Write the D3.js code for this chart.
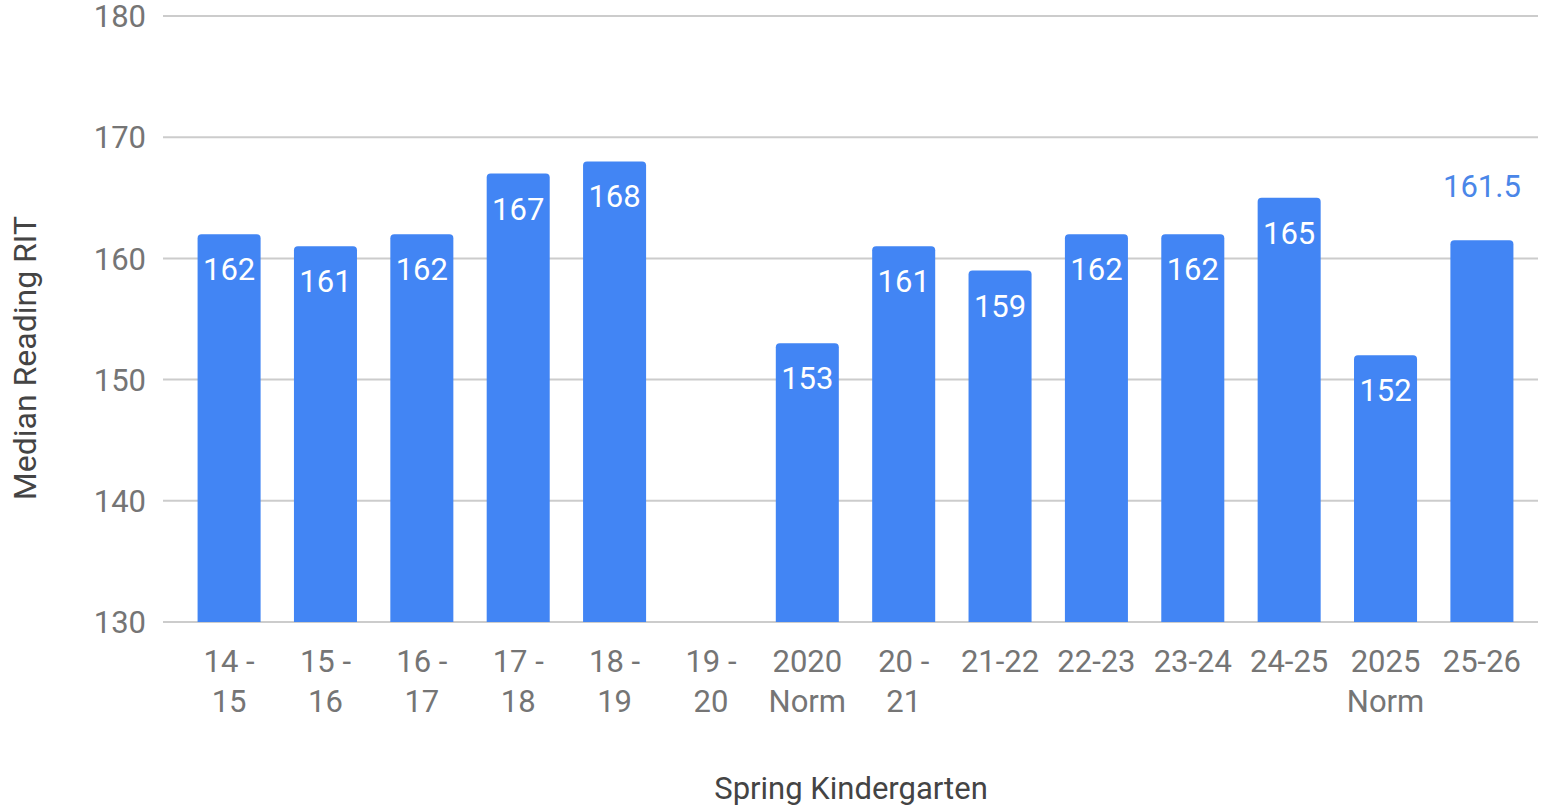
<!DOCTYPE html>
<html>
<head>
<meta charset="utf-8">
<script src="https://cdn.jsdelivr.net/npm/d3@7"></script>
<style>
  body { margin: 0; background: #fff; }
  svg { display: block; font-family: Roboto, 'Noto Sans', sans-serif; }
</style>
</head>
<body>
<div id="chart"></div>
<script>
// Chart data
const categories = ['14 - 15', '15 - 16', '16 - 17', '17 - 18', '18 - 19', '19 - 20', '2020 Norm',
  '20 - 21', '21-22', '22-23', '23-24', '24-25', '2025 Norm', '25-26']
const tickLines = [['14 -', '15'], ['15 -', '16'], ['16 -', '17'], ['17 -', '18'], ['18 -', '19'],
  ['19 -', '20'], ['2020', 'Norm'], ['20 -', '21'], ['21-22'], ['22-23'], ['23-24'], ['24-25'],
  ['2025', 'Norm'], ['25-26']]
const values = [162, 161, 162, 167, 168, null, 153, 161, 159, 162, 162, 165, 152, 161.5]
const yTicks = [130, 140, 150, 160, 170, 180]

const width = 1545
const height = 811
const barColor = '#4285f4'

const svg = d3.select('#chart').append('svg')
  .attr('width', width)
  .attr('height', height)

const x = d3.scaleBand()
  .domain(categories)
  .range([168, 1543])
  .paddingInner(0.346)
  .paddingOuter(0.307)

const y = d3.scaleLinear()
  .domain([130, 180])
  .range([622, 16])

// Gridlines
svg.append('g')
  .selectAll('line')
  .data(yTicks)
  .enter().append('line')
  .attr('x1', 163)
  .attr('x2', 1538)
  .attr('y1', d => y(d))
  .attr('y2', d => y(d))
  .attr('stroke', '#cccccc')
  .attr('stroke-width', 2)

// Y tick labels
svg.append('g')
  .selectAll('text')
  .data(yTicks)
  .enter().append('text')
  .attr('x', 146)
  .attr('y', d => y(d))
  .attr('dy', '0.36em')
  .attr('text-anchor', 'end')
  .attr('fill', '#757575')
  .style('font-size', '31px')
  .text(d => d)

// Bars with rounded tops
const r = 4
const bars = categories.map((c, i) => ({ cat: c, v: values[i] })).filter(d => d.v !== null)

svg.append('g')
  .selectAll('path')
  .data(bars)
  .enter().append('path')
  .attr('fill', barColor)
  .attr('d', d => {
    const x0 = x(d.cat)
    const w = x.bandwidth()
    const top = y(d.v)
    const bot = y(130)
    return 'M' + x0 + ',' + bot +
      'V' + (top + r) +
      'Q' + x0 + ',' + top + ' ' + (x0 + r) + ',' + top +
      'H' + (x0 + w - r) +
      'Q' + (x0 + w) + ',' + top + ' ' + (x0 + w) + ',' + (top + r) +
      'V' + bot + 'Z'
  })

// Value labels: inside when they fit, above otherwise
svg.append('g')
  .selectAll('text')
  .data(bars)
  .enter().append('text')
  .attr('x', d => x(d.cat) + x.bandwidth() / 2)
  .attr('y', d => Number.isInteger(d.v) ? y(d.v) + 46 : y(d.v) - 43)
  .attr('text-anchor', 'middle')
  .attr('fill', d => Number.isInteger(d.v) ? '#ffffff' : '#4a86e8')
  .style('font-size', '31px')
  .text(d => d.v)

// X tick labels
const xl = svg.append('g')
  .selectAll('text')
  .data(categories)
  .enter().append('text')
  .attr('x', d => x(d) + x.bandwidth() / 2)
  .attr('y', 672)
  .attr('text-anchor', 'middle')
  .attr('fill', '#757575')
  .style('font-size', '31px')

xl.selectAll('tspan')
  .data((d, i) => tickLines[i])
  .enter().append('tspan')
  .attr('x', function () { return d3.select(this.parentNode).attr('x') })
  .attr('dy', (d, i) => i === 0 ? 0 : 40)
  .text(d => d)

// Axis titles
svg.append('text')
  .attr('x', 851)
  .attr('y', 799)
  .attr('text-anchor', 'middle')
  .attr('fill', '#444444')
  .style('font-size', '31px')
  .text('Spring Kindergarten')

svg.append('text')
  .attr('transform', 'translate(36,358) rotate(-90)')
  .attr('text-anchor', 'middle')
  .attr('fill', '#444444')
  .style('font-size', '32px')
  .text('Median Reading RIT')
</script>
</body>
</html>
